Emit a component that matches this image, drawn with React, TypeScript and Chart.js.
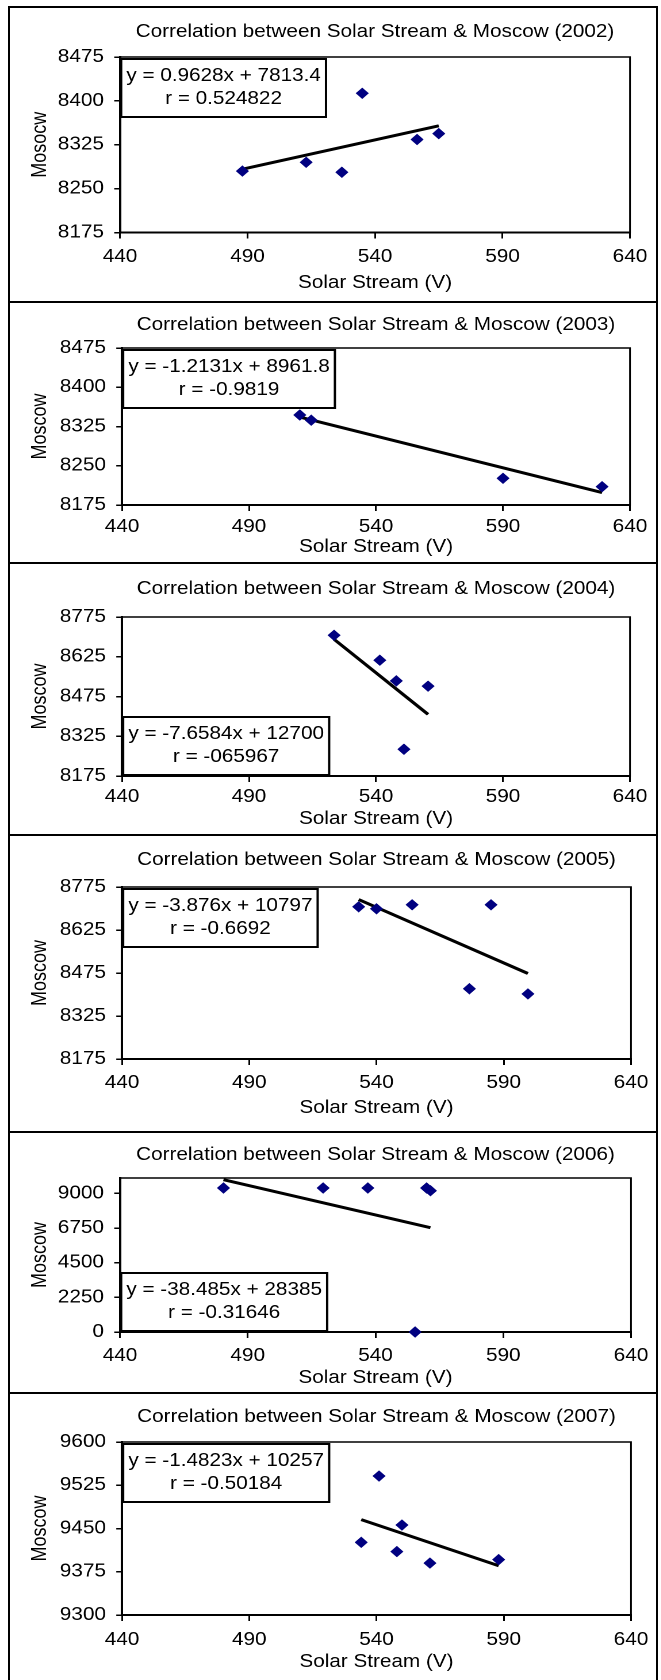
import React, { useEffect, useRef } from "react";
import { Chart, registerables } from "chart.js";

Chart.register(...registerables);

// ---------------- DATA ----------------
const YEARS = [2002, 2003, 2004, 2005, 2006, 2007];

const X_2002 = [488, 513, 527, 535, 556.5, 565];
const Y_2002 = [8280, 8295, 8278, 8413, 8334, 8344];

const X_2003 = [510, 514.5, 590, 629];
const Y_2003 = [8347, 8337, 8226, 8210];

const X_2004 = [523.5, 541.5, 548, 560.5, 551];
const Y_2004 = [8706, 8612, 8534, 8514, 8276];

const X_2005 = [533, 540, 554, 585, 576.5, 599.5];
const Y_2005 = [8706, 8699, 8713, 8713, 8420, 8402];

const X_2006 = [480.5, 519.5, 537, 560, 561.5, 555.5];
const Y_2006 = [9350, 9350, 9350, 9350, 9175, 0];

const X_2007 = [541, 550, 534, 548, 561, 588];
const Y_2007 = [9541, 9456, 9426, 9410, 9390, 9396];

const X_DATA = [X_2002, X_2003, X_2004, X_2005, X_2006, X_2007];
const Y_DATA = [Y_2002, Y_2003, Y_2004, Y_2005, Y_2006, Y_2007];

const X_TICKS = [440, 490, 540, 590, 640];
const Y_TICKS_2002 = [8175, 8250, 8325, 8400, 8475];
const Y_TICKS_2003 = [8175, 8250, 8325, 8400, 8475];
const Y_TICKS_2004 = [8175, 8325, 8475, 8625, 8775];
const Y_TICKS_2005 = [8175, 8325, 8475, 8625, 8775];
const Y_TICKS_2006 = [0, 2250, 4500, 6750, 9000];
const Y_TICKS_2007 = [9300, 9375, 9450, 9525, 9600];
const Y_TICKS = [Y_TICKS_2002, Y_TICKS_2003, Y_TICKS_2004, Y_TICKS_2005, Y_TICKS_2006, Y_TICKS_2007];

const Y_MIN = [8175, 8175, 8175, 8175, 0, 9300];
const Y_MAX = [8475, 8475, 8775, 8775, 10000, 9600];

const SLOPES = [0.9628, -1.2131, -7.6584, -3.876, -38.485, -1.4823];
const INTERCEPTS = [7813.4, 8961.8, 12700, 10797, 28385, 10257];
const R_LABELS = ["r = 0.524822", "r = -0.9819", "r = -065967", "r = -0.6692", "r = -0.31646", "r = -0.50184"];

const Y_TITLES = ["Mosocw", "Moscow", "Moscow", "Moscow", "Moscow", "Moscow"];
const X_TITLE = "Solar Stream (V)";
const TITLE_PREFIX = "Correlation between Solar Stream & Moscow";

// ---------------- LAYOUT / STYLE ----------------
const S = 1.15; // horizontal stretch of the picture
const PAGE_W = 661;
const CANVAS_W = 575;
const FONT = "'Liberation Sans', Arial, Helvetica, sans-serif";
const FS = 18;
const LH = FS * 1.2;
const X_TICK_LEN = 6;
const Y_TICK_LEN = 5;
const Y_TICK_PAD = 9;
const Y_TITLE_X = 40; // display px
const BOX_PAD = 4.5;
const BOX_H = 58;

const PANELS = [
  { top: 7, bottom: 302, titleY: 32, plotTop: 57, plotBottom: 232.5, labelY: 257, axisTitleY: 283, plotLeft: 120, plotRight: 630, box: "top" },
  { top: 302, bottom: 563, titleY: 325, plotTop: 348, plotBottom: 505, labelY: 527, axisTitleY: 547, plotLeft: 122, plotRight: 630, box: "top" },
  { top: 563, bottom: 835, titleY: 589, plotTop: 617, plotBottom: 776, labelY: 797, axisTitleY: 819, plotLeft: 122, plotRight: 630, box: "bottom" },
  { top: 835, bottom: 1132, titleY: 860, plotTop: 887, plotBottom: 1059, labelY: 1083, axisTitleY: 1108, plotLeft: 122, plotRight: 631, box: "top" },
  { top: 1132, bottom: 1393, titleY: 1155, plotTop: 1178, plotBottom: 1332, labelY: 1356, axisTitleY: 1378, plotLeft: 120, plotRight: 631, box: "bottom" },
  { top: 1393, bottom: 1680, titleY: 1417, plotTop: 1442, plotBottom: 1615, labelY: 1640, axisTitleY: 1662, plotLeft: 122, plotRight: 631, box: "top" },
];

const font = { family: FONT, size: FS, weight: "normal" as const, lineHeight: 1.2 };

function Panel({ i }: { i: number }) {
  const ref = useRef<HTMLCanvasElement>(null);
  const L = PANELS[i];
  const H = L.bottom - L.top;

  useEffect(() => {
    if (!ref.current) return;
    const xs = X_DATA[i];
    const ys = Y_DATA[i];
    const pts = xs.map((x, k) => ({ x, y: ys[k] }));
    const xmin = Math.min(...xs);
    const xmax = Math.max(...xs);
    const trend = [xmin, xmax].map((x) => ({ x, y: SLOPES[i] * x + INTERCEPTS[i] }));
    const eqText = `y = ${SLOPES[i]}x + ${INTERCEPTS[i]}`;
    const left = L.plotLeft / S;
    const right = L.plotRight / S;

    const frame = {
      id: "frame",
      beforeDatasetsDraw(chart: any) {
        const { ctx, chartArea: a } = chart;
        ctx.save();
        ctx.strokeStyle = "#000";
        ctx.lineWidth = 1.5;
        ctx.strokeRect(a.left, a.top, a.right - a.left, a.bottom - a.top);
        ctx.restore();
      },
    };

    const eqBox = {
      id: "eqbox",
      afterDatasetsDraw(chart: any) {
        const { ctx, chartArea: a } = chart;
        ctx.save();
        ctx.font = `${FS}px ${FONT}`;
        const lines = [eqText, R_LABELS[i]];
        const w = Math.max(...lines.map((t) => ctx.measureText(t).width)) + 2 * BOX_PAD;
        const x = a.left + 1;
        const y = L.box === "top" ? a.top + 2 : a.bottom - BOX_H - 1;
        ctx.fillStyle = "#fff";
        ctx.fillRect(x, y, w, BOX_H);
        ctx.strokeStyle = "#000";
        ctx.lineWidth = 2;
        ctx.strokeRect(x, y, w, BOX_H);
        ctx.fillStyle = "#000";
        ctx.textAlign = "center";
        ctx.textBaseline = "middle";
        ctx.fillText(lines[0], x + w / 2, y + 17);
        ctx.fillText(lines[1], x + w / 2, y + 40);
        ctx.restore();
      },
    };

    const chart = new Chart(ref.current, {
      type: "scatter",
      data: {
        datasets: [
          {
            data: pts,
            pointStyle: "rectRot",
            pointRadius: 5,
            pointHoverRadius: 5,
            backgroundColor: "#000080",
            borderColor: "#000080",
            borderWidth: 1,
            showLine: false,
            clip: false,
          } as any,
          {
            data: trend,
            showLine: true,
            pointRadius: 0,
            borderColor: "#000",
            backgroundColor: "#000",
            borderWidth: 3,
            fill: false,
            clip: false,
          } as any,
        ],
      },
      options: {
        animation: false,
        responsive: false,
        devicePixelRatio: 2,
        events: [],
        layout: { padding: { left: 0, right: CANVAS_W - right, top: 0, bottom: 0 } },
        plugins: {
          legend: { display: false },
          tooltip: { enabled: false },
          title: {
            display: true,
            text: `${TITLE_PREFIX} (${YEARS[i]})`,
            fullSize: false,
            color: "#000",
            font,
            padding: { top: L.titleY - L.top - LH / 2, bottom: L.plotTop - L.titleY - LH / 2 },
          },
        },
        scales: {
          x: {
            type: "linear",
            position: "bottom",
            min: X_TICKS[0],
            max: X_TICKS[X_TICKS.length - 1],
            afterBuildTicks: (ax: any) => {
              ax.ticks = X_TICKS.map((v) => ({ value: v }));
            },
            afterFit: (ax: any) => {
              ax.height = L.bottom - L.plotBottom;
            },
            grid: { display: true, drawOnChartArea: false, drawTicks: true, tickLength: X_TICK_LEN, color: "#000", lineWidth: 1.5 },
            border: { display: true, color: "#000", width: 2 },
            ticks: {
              color: "#000",
              font,
              padding: L.labelY - L.plotBottom - X_TICK_LEN - LH / 2,
              maxRotation: 0,
              autoSkip: false,
              callback: (v: any) => `${v}`,
            },
            title: {
              display: true,
              text: X_TITLE,
              color: "#000",
              font,
              padding: { top: 0, bottom: L.bottom - L.axisTitleY - LH / 2 },
            },
          },
          y: {
            type: "linear",
            position: "left",
            min: Y_MIN[i],
            max: Y_MAX[i],
            afterBuildTicks: (ax: any) => {
              ax.ticks = Y_TICKS[i].map((v) => ({ value: v }));
            },
            afterFit: (ax: any) => {
              ax.width = left;
            },
            grid: { display: true, drawOnChartArea: false, drawTicks: true, tickLength: Y_TICK_LEN, color: "#000", lineWidth: 1.5 },
            border: { display: true, color: "#000", width: 2 },
            ticks: {
              color: "#000",
              font,
              padding: Y_TICK_PAD,
              autoSkip: false,
              callback: (v: any) => `${v}`,
            },
            title: {
              display: true,
              text: Y_TITLES[i],
              color: "#000",
              font,
              padding: { top: Y_TITLE_X / S - LH / 2, bottom: 0 },
            },
          },
        },
      } as any,
      plugins: [frame, eqBox],
    });
    return () => chart.destroy();
  }, [i]);

  return (
    <div
      style={{
        position: "absolute",
        left: 0,
        top: L.top,
        width: CANVAS_W,
        height: H,
        transform: `scaleX(${S})`,
        transformOrigin: "0 0",
      }}
    >
      <canvas ref={ref} width={CANVAS_W} height={H} style={{ width: CANVAS_W, height: H, display: "block" }} />
    </div>
  );
}

const BORDER_LEFT = 8;
const BORDER_RIGHT = 656;
const LINE = 2;

export default function App() {
  return (
    <div
      style={{
        position: "absolute",
        left: 0,
        top: 0,
        width: PAGE_W,
        height: 1680,
        overflow: "hidden",
        background: "#fff",
      }}
    >
      {YEARS.map((_, i) => (
        <Panel key={i} i={i} />
      ))}
      {/* panel frames */}
      <div style={{ position: "absolute", left: BORDER_LEFT, top: PANELS[0].top - 1, width: LINE, height: 1680, background: "#000" }} />
      <div style={{ position: "absolute", left: BORDER_RIGHT, top: PANELS[0].top - 1, width: LINE, height: 1680, background: "#000" }} />
      {PANELS.map((p, k) => (
        <div
          key={k}
          style={{
            position: "absolute",
            left: BORDER_LEFT,
            top: p.top - 1,
            width: BORDER_RIGHT + LINE - BORDER_LEFT,
            height: LINE,
            background: "#000",
          }}
        />
      ))}
    </div>
  );
}
